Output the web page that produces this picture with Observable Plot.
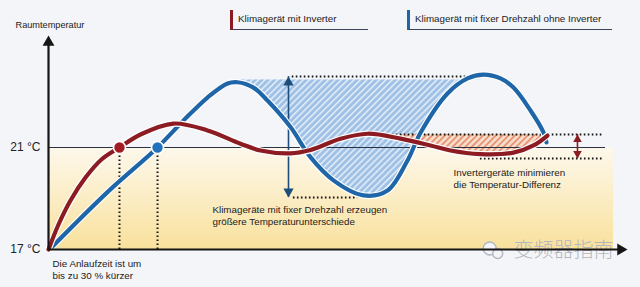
<!DOCTYPE html>
<html><head><meta charset="utf-8">
<script src="https://cdn.jsdelivr.net/npm/d3@7"></script>
<script src="https://cdn.jsdelivr.net/npm/@observablehq/plot@0.6"></script>
<style>
html,body{margin:0;padding:0;background:#f3f5f8;}
#wrap{position:relative;width:640px;height:287px;overflow:hidden;font-family:"Liberation Sans",Arial,sans-serif;}
#wrap svg{position:absolute;left:0;top:0;}
.leg{position:absolute;top:10px;height:20px;border-left:3px solid;border-bottom:1.3px solid #3b4257;font-size:9.8px;color:#222;line-height:17px;padding-left:5px;box-sizing:border-box;white-space:nowrap;}
</style></head>
<body><div id="wrap"></div>
<script>
// ---- data (time in arbitrary units, temperature in °C) ----
const redTime  = [0, 1.73, 3.8, 6.39, 9.15, 12.26, 15.89, 21.59, 27.46, 33.16, 36.62, 41.8, 45.25, 50.43, 55.09, 60.79, 65.98, 69.43, 74.6, 80.3, 83.77, 86.18];
const redTemp  = [17.0, 17.98, 18.92, 19.82, 20.53, 21.0, 21.51, 21.94, 21.67, 21.15, 20.88, 20.77, 20.9, 21.34, 21.54, 21.35, 21.08, 20.88, 20.74, 20.8, 21.08, 21.47];
const blueTime = [0.35, 10.19, 18.83, 23.32, 27.46, 30.92, 32.64, 35.4, 37.82, 41.8, 45.25, 49.22, 54.4, 58.55, 62.0, 64.25, 68.91, 72.37, 75.13, 78.07, 80.31, 83.25, 85.49, 86.0];
const blueTemp = [17.04, 19.25, 21.0, 22.06, 22.96, 23.51, 23.56, 23.35, 22.84, 21.8, 20.62, 19.71, 19.12, 19.31, 20.49, 21.58, 23.12, 23.71, 23.86, 23.71, 23.35, 22.45, 21.59, 21.2];
const crossings = [{name: "red", t: 12.26}, {name: "blue", t: 18.83}]; // reach 21 °C
const tickTemps = [17, 21];
const blueBand = [19.04, 23.78];   // fixed-speed swing
const redBand  = [20.57, 21.51];   // inverter swing
const yLabel = "Raumtemperatur";
const legendLabels = ["Klimagerät mit Inverter", "Klimagerät mit fixer Drehzahl ohne Inverter"];
const notes = [
  {text: "Die Anlaufzeit ist um\nbis zu 30 % kürzer", t: 0.69, v: 16.24},
  {text: "Klimageräte mit fixer Drehzahl erzeugen\ngrößere Temperaturunterschiede", t: 28.32, v: 18.33},
  {text: "Invertergeräte minimieren\ndie Temperatur-Differenz", t: 69.95, v: 19.8}
];
const watermark = "变频器指南";

const red = redTime.map((t, i) => ({t, v: redTemp[i]}));
const blue = blueTime.map((t, i) => ({t, v: blueTemp[i]}));

const RED = "#8c1b22", BLUE = "#1f66a8", DARKBLUE = "#1d4d7a", INK = "#151515";
const xDomain = [0, 100], xRange = [48, 627];
const yDomain = [17, 21], yRange = [249, 147];
const xS = d3.scaleLinear(xDomain, xRange), yS = d3.scaleLinear(yDomain, yRange);
const axisTop = 25.39, axisEnd = 100;
const hatchTop = 23.66;

function tri(r) { return 2 * Math.sqrt(Math.PI * r * r / (Math.sqrt(3) * 3)); }

const svg = Plot.plot({
  width: 640, height: 287, margin: 0,
  x: {domain: xDomain, range: xRange, axis: null},
  y: {domain: yDomain, range: yRange, axis: null},
  style: {background: "transparent", fontFamily: "Liberation Sans, Arial, sans-serif", fontSize: "9.8px", color: "#222", overflow: "visible"},
  marks: [
    Plot.rect([0], {x1: 0, x2: 97.6, y1: 17, y2: 21, fill: "url(#warm)"}),
    Plot.areaY(blue, {x: "t", y1: "v", y2: hatchTop, curve: "catmull-rom", fill: "url(#hatchBlue)"}),
    Plot.areaY(red, {x: "t", y1: "v", y2: redBand[1], curve: "catmull-rom", fill: "url(#hatchRed)"}),
    // watermark
    Plot.text([watermark], {x: 80.3, y: 17, dy: 1, text: d => d, textAnchor: "start", fontSize: 20, fill: "#b3b7bf", fontFamily: "Noto Sans CJK SC", fontWeight: 300}),
    Plot.dot([0], {x: 76.2, y: 17, r: 6.5, dx: 0, dy: -1, fill: "#f3f5f8", stroke: "#b3b7bf", strokeWidth: 1.4}),
    Plot.dot([0], {x: 76.2, y: 17, r: 5, dx: 8, dy: 4, fill: "#f3f5f8", stroke: "#b3b7bf", strokeWidth: 1.4}),
    // reference line 21 °C
    Plot.ruleY([21], {x1: 0, x2: 96.2, stroke: "#2a3240", strokeWidth: 1.2}),
    // dotted guides
    Plot.ruleX(crossings, {x: "t", y1: 17, y2: 21, stroke: INK, strokeWidth: 2, strokeDasharray: "1.6,2.4"}),
    Plot.ruleY([blueBand[1]], {x1: 42.1, x2: 74.1, stroke: INK, strokeWidth: 2, strokeDasharray: "1.6,2.4"}),
    Plot.ruleY([blueBand[0]], {x1: 42.3, x2: 53.4, stroke: INK, strokeWidth: 2, strokeDasharray: "1.6,2.4"}),
    Plot.ruleY([redBand[1]], {x1: 57.3, x2: 95.8, stroke: INK, strokeWidth: 2, strokeDasharray: "1.6,2.4"}),
    Plot.ruleY([redBand[0]], {x1: 74.6, x2: 95.8, stroke: INK, strokeWidth: 2, strokeDasharray: "1.6,2.4"}),
    // double arrows
    Plot.ruleX([41.45], {y1: blueBand[0], y2: blueBand[1], stroke: DARKBLUE, strokeWidth: 1.6}),
    Plot.dot([blueBand[1]], {x: 41.45, y: d => d, symbol: "triangle", r: 3.8, dy: tri(3.8), fill: DARKBLUE, stroke: "none"}),
    Plot.dot([blueBand[0]], {x: 41.45, y: d => d, symbol: "triangle", r: 3.8, dy: -tri(3.8), rotate: 180, fill: DARKBLUE, stroke: "none"}),
    Plot.ruleX([91.36], {y1: redBand[0], y2: redBand[1], stroke: RED, strokeWidth: 1.6}),
    Plot.dot([redBand[1]], {x: 91.36, y: d => d, symbol: "triangle", r: 3.2, dy: tri(3.2), fill: RED, stroke: "none"}),
    Plot.dot([redBand[0]], {x: 91.36, y: d => d, symbol: "triangle", r: 3.2, dy: -tri(3.2), rotate: 180, fill: RED, stroke: "none"}),
    // curves
    Plot.line(blue, {x: "t", y: "v", curve: "catmull-rom", stroke: "white", strokeWidth: 6.5}),
    Plot.line(blue, {x: "t", y: "v", curve: "catmull-rom", stroke: BLUE, strokeWidth: 4.2}),
    Plot.line(red, {x: "t", y: "v", curve: "catmull-rom", stroke: "white", strokeWidth: 6.5}),
    Plot.line(red, {x: "t", y: "v", curve: "catmull-rom", stroke: RED, strokeWidth: 4.2}),
    Plot.dot(crossings, {x: "t", y: () => 21, r: 6, fill: d => d.name === "red" ? "#a21c24" : "#1f72bb", stroke: "white", strokeWidth: 1.6}),
    // axes
    Plot.ruleX([0], {y1: 17, y2: axisTop - 0.2, stroke: INK, strokeWidth: 2.2}),
    Plot.ruleY([17], {x1: 0, x2: axisEnd - 0.5, stroke: INK, strokeWidth: 2.2}),
    Plot.dot([axisTop], {x: 0, y: d => d, symbol: "triangle", r: 4.4, dy: tri(4.4), fill: INK, stroke: "none"}),
    Plot.dot([axisEnd], {x: d => d, y: 17, symbol: "triangle", r: 4.4, dx: -tri(4.4), rotate: 90, fill: INK, stroke: "none"}),
    Plot.text(tickTemps, {x: 0, y: d => d, text: d => `${d} °C`, textAnchor: "end", dx: -8, fontSize: 12, fill: "#222"}),
    Plot.text([yLabel], {x: 0, y: axisTop, text: d => d, textAnchor: "start", dx: -33, dy: -11, fontSize: 9.2, fill: "#222"}),
    // notes
    Plot.text(notes, {x: "t", y: "v", text: "text", textAnchor: "start", lineHeight: 1.22, fontSize: 9.8, fill: "#222"})
  ]
});

// defs: gradient, hatch patterns, clip paths
const sel = d3.select(svg);
const defs = sel.insert("defs", ":first-child");
const g = defs.append("linearGradient").attr("id", "warm").attr("x1", 0).attr("y1", 0).attr("x2", 0).attr("y2", 1);
g.append("stop").attr("offset", "0%").attr("stop-color", "#fdf8ec");
g.append("stop").attr("offset", "100%").attr("stop-color", "#f9e19c");
const pb = defs.append("pattern").attr("id", "hatchBlue").attr("patternUnits", "userSpaceOnUse")
  .attr("width", 4.5).attr("height", 4.5).attr("patternTransform", "rotate(45)");
pb.append("rect").attr("width", 4.5).attr("height", 4.5).attr("fill", "#a0c1e6");
pb.append("rect").attr("width", 1.5).attr("height", 4.5).attr("fill", "#e4eef9");
const pr = defs.append("pattern").attr("id", "hatchRed").attr("patternUnits", "userSpaceOnUse")
  .attr("width", 4.5).attr("height", 4.5).attr("patternTransform", "rotate(45)");
pr.append("rect").attr("width", 4.5).attr("height", 4.5).attr("fill", "#f7dccb");
pr.append("rect").attr("width", 1.8).attr("height", 4.5).attr("fill", "#e59574");
function clip(id, t0, t1, vTop) {
  defs.append("clipPath").attr("id", id).append("rect")
    .attr("x", xS(t0)).attr("y", yS(vTop)).attr("width", xS(t1) - xS(t0)).attr("height", yS(17) - yS(vTop));
}
// blue swing: between its first and second peak; red swing: from its second peak to the end
const firstHalf = blue.filter(d => d.t < 50);
const bluePeak1 = firstHalf[d3.maxIndex(firstHalf, d => d.v)].t;
const bluePeak2 = blue[d3.maxIndex(blue, d => d.v)].t;
const laterRed = red.filter(d => d.t > 40);
const redPeak2 = laterRed[d3.maxIndex(laterRed, d => d.v)].t;
clip("clipBlue", bluePeak1, bluePeak2, hatchTop);
clip("clipRed", redPeak2, redTime[redTime.length - 1], redBand[1]);
const areas = svg.querySelectorAll('g[aria-label="area"]');
if (areas[0]) areas[0].setAttribute("clip-path", "url(#clipBlue)");
if (areas[1]) areas[1].setAttribute("clip-path", "url(#clipRed)");

const wrap = document.getElementById("wrap");
wrap.appendChild(svg);
// legend
[[legendLabels[0], RED, 230, 138], [legendLabels[1], BLUE, 407, 205]].forEach(([label, color, left, w]) => {
  const d = document.createElement("div");
  d.className = "leg";
  d.style.left = left + "px";
  d.style.width = w + "px";
  d.style.borderLeftColor = color;
  d.textContent = label;
  wrap.appendChild(d);
});
</script></body></html>
